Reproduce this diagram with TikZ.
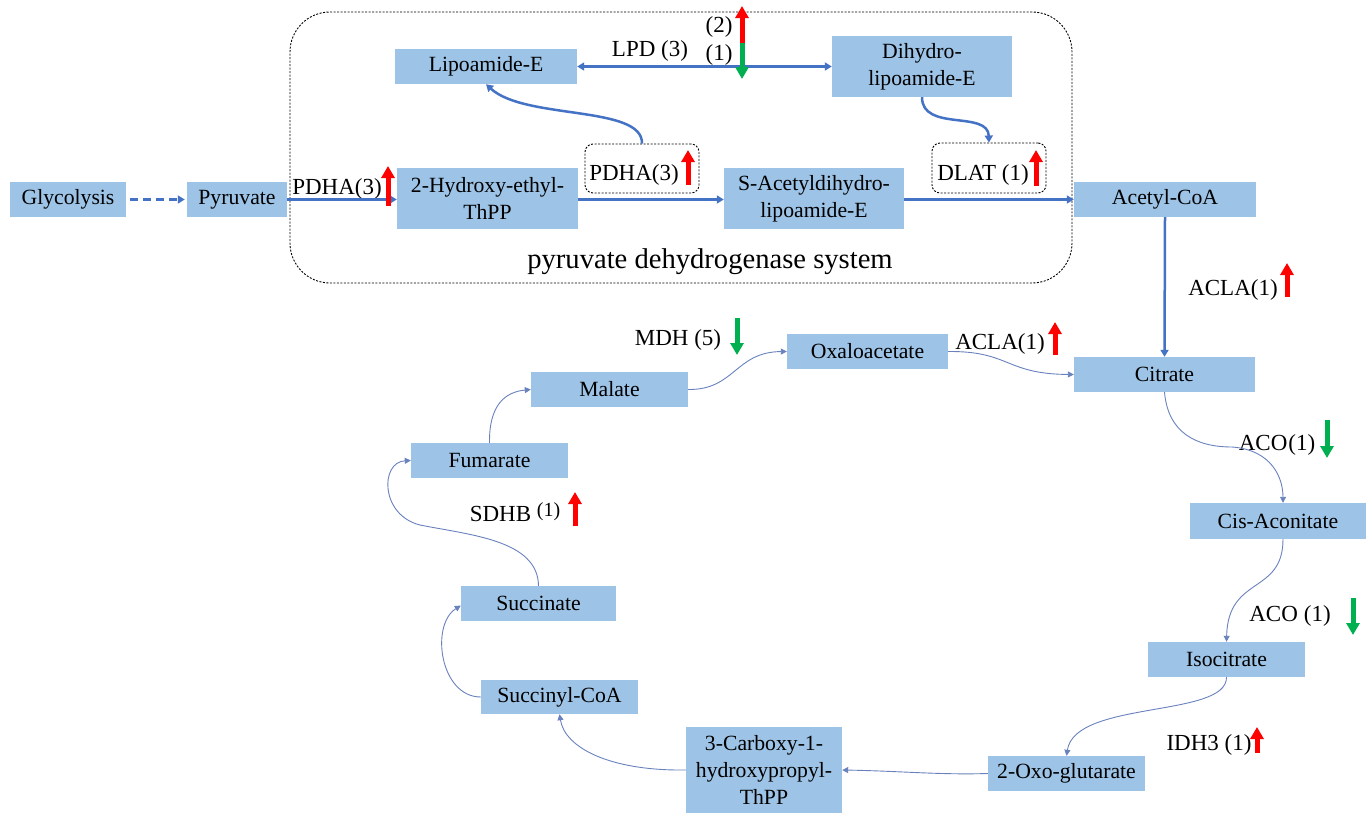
\documentclass[tikz,border=0pt]{standalone}
\usepackage{fontspec}
\setmainfont{LiberationSerif}[Extension=.ttf, UprightFont=*-Regular, BoldFont=*-Bold, ItalicFont=*-Italic]
\usetikzlibrary{arrows.meta,calc}
\definecolor{boxblue}{RGB}{157,195,230}
\definecolor{lineblue}{RGB}{68,114,196}
\definecolor{thinblue}{RGB}{105,130,190}
\definecolor{upred}{RGB}{255,0,0}
\definecolor{downgreen}{RGB}{0,176,80}
\newcommand\boxfont{\fontsize{21.7}{27}\selectfont}
\newcommand\lblfont{\fontsize{23}{27}\selectfont}
\newcommand\sysfont{\fontsize{28.6}{32}\selectfont}
\begin{document}
\begin{tikzpicture}[x=1pt,y=-1pt,
  box/.style={fill=boxblue, draw=none, inner sep=0pt, align=center, font=\boxfont},
  lbl/.style={inner sep=0pt, font=\lblfont, anchor=base},
  dbox/.style={draw=black, line width=0.9pt, dash pattern=on 2pt off 1.5pt, rounded corners=8pt, inner sep=0pt},
  thickarrow/.style={draw=lineblue, line width=2.5pt, -{Triangle[width=8pt,length=7pt]}},
  thinarrow/.style={draw=thinblue, line width=0.9pt, -{Triangle[width=6pt,length=6pt]}},
  upind/.style={draw=upred, line width=5pt, -{Triangle[width=13pt,length=12pt]}},
  downind/.style={draw=downgreen, line width=5pt, -{Triangle[width=13pt,length=12pt]}}
]
\useasboundingbox (0,0) rectangle (1366,814);
\fill[white] (0,0) rectangle (1366,814);

% outer pyruvate dehydrogenase system box
\node[dbox, rounded corners=40pt, minimum width=782, minimum height=271] (sys) at (681,147.5) {};
\node[inner sep=0pt, font=\sysfont, anchor=base] (syslbl) at (710,268) {pyruvate dehydrogenase system};

% boxes
\node[box, minimum width=116, minimum height=35] (glyc) at (68,199.5) {Glycolysis};
\node[box, minimum width=100, minimum height=35] (pyr) at (237,199.5) {Pyruvate};
\node[box, minimum width=182, minimum height=35] (lipo) at (486,66.5) {Lipoamide-E};
\node[box, minimum width=180, minimum height=61] (dihydro) at (922,66.5) {Dihydro-\\lipoamide-E};
\node[box, minimum width=181, minimum height=61] (hydroxy) at (487.5,198.5) {2-Hydroxy-ethyl-\\ThPP};
\node[box, minimum width=180, minimum height=61] (sacetyl) at (814,198.5) {S-Acetyldihydro-\\lipoamide-E};
\node[box, minimum width=182, minimum height=35] (acetyl) at (1165,199.5) {Acetyl-CoA};
\node[box, minimum width=181, minimum height=35] (citrate) at (1164.5,374.5) {Citrate};
\node[box, minimum width=161, minimum height=35] (oxalo) at (867.5,351.5) {Oxaloacetate};
\node[box, minimum width=157, minimum height=35] (malate) at (609.5,389.5) {Malate};
\node[box, minimum width=157, minimum height=35] (fumarate) at (489.5,460.5) {Fumarate};
\node[box, minimum width=155, minimum height=35] (succinate) at (538.5,603.5) {Succinate};
\node[box, minimum width=157, minimum height=34] (succoa) at (559.5,697) {Succinyl-CoA};
\node[box, minimum width=156, minimum height=86] (carboxy) at (764,770) {3-Carboxy-1-\\hydroxypropyl-\\ThPP};
\node[box, minimum width=157, minimum height=35] (oxoglu) at (1066.5,773.5) {2-Oxo-glutarate};
\node[box, minimum width=157, minimum height=35] (isocit) at (1226.5,659.5) {Isocitrate};
\node[box, minimum width=176, minimum height=36] (cisaco) at (1278,521) {Cis-Aconitate};

% dashed enzyme boxes
\node[dbox, minimum width=114, minimum height=49] (pdhabox) at (642,168.5) {};
\node[dbox, minimum width=114, minimum height=50] (dlatbox) at (989,168) {};

% labels
\node[lbl] (lpd) at (650,56) {LPD (3)};
\node[lbl] (lpd2) at (719,32) {(2)};
\node[lbl] (lpd1) at (719,60) {(1)};
\node[lbl] (pdha1) at (337,194) {PDHA(3)};
\node[lbl] (pdha2) at (634,180) {PDHA(3)};
\node[lbl] (dlat) at (983,180) {DLAT (1)};
\node[lbl] (acla1) at (1233,295) {ACLA(1)};
\node[lbl] (mdh) at (678,345) {MDH (5)};
\node[lbl] (acla2) at (1000,349) {ACLA(1)};
\node[lbl] (aco1) at (1277,450) {ACO\kern1pt(1)};
\node[lbl] (sdhb) at (515,521) {SDHB \raisebox{5pt}{\fontsize{20}{20}\selectfont(1)}};
\node[lbl] (aco2) at (1290,621) {ACO\hspace{6pt}(1)};
\node[lbl] (idh3) at (1209,750) {IDH3 (1)};

% main (thick) connectors
\draw[thickarrow, dash pattern=on 8pt off 5pt, shorten <=4pt, shorten >=2pt] (glyc.east) -- (pyr.west);
\draw[thickarrow] (pyr.east) -- (pyr.east -| hydroxy.west);
\draw[thickarrow] (hydroxy.east |- pyr.east) -- (pyr.east -| sacetyl.west);
\draw[thickarrow] (sacetyl.east |- pyr.east) -- (acetyl.west);
\draw[thickarrow] (acetyl.south) -- (citrate.north);
\draw[thickarrow, {Triangle[width=8pt,length=7pt]}-{Triangle[width=8pt,length=7pt]}] (lipo.east) -- (lipo.east -| dihydro.west);
\draw[thickarrow] (pdhabox.north) .. controls (643,105) and (525,120) .. (lipo.south);
\draw[thickarrow] (dihydro.south) .. controls (922,132) and (988,110) .. (dlatbox.north);

% TCA cycle (thin) connectors
\draw[thinarrow] (malate.east) .. controls (735,390) and (735,352) .. (oxalo.west);
\draw[thinarrow] (oxalo.east) .. controls (1010,351) and (1005,374) .. (citrate.west);
\draw[thinarrow] (citrate.south) .. controls (1168,432) and (1195,447) .. (1232,447) .. controls (1272,450) and (1283,478) .. ($(cisaco.north)+(5,0)$);
\draw[thinarrow] ($(cisaco.south)+(5,0)$) .. controls (1283,595) and (1228,575) .. (isocit.north);
\draw[thinarrow] (isocit.south) .. controls (1227,718) and (1075,700) .. (oxoglu.north);
\draw[thinarrow] (oxoglu.west) .. controls (940,775) and (900,771) .. (carboxy.east);
\draw[thinarrow] (carboxy.west) .. controls (610,771) and (565,748) .. (succoa.south);
\draw[thinarrow] (succoa.west) .. controls (440,697) and (430,625) .. ($(succinate.west)+(0,2)$);
\draw[thinarrow] (succinate.north) .. controls (538,540) and (470,535) .. (420,525) .. controls (380,515) and (380,462) .. (fumarate.west);
\draw[thinarrow] (fumarate.north) .. controls (489,405) and (505,392) .. (malate.west);

% up / down indicators
\draw[upind] (742,43) -- (742,6);
\draw[downind] (742,43) -- (742,79);
\draw[upind] (388,206) -- (388,166);
\draw[upind] (688,185) -- (688,150);
\draw[upind] (1036,186) -- (1036,150);
\draw[upind] (1287,297) -- (1287,263);
\draw[upind] (1055,355) -- (1055,322);
\draw[downind] (737,318) -- (737,355);
\draw[downind] (1327,420) -- (1327,458);
\draw[upind] (575,526) -- (575,492);
\draw[downind] (1353,598) -- (1353,635);
\draw[upind] (1257,753) -- (1257,727);
\end{tikzpicture}
\end{document}
